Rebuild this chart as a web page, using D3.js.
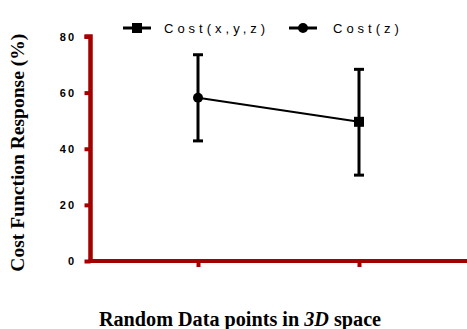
<!DOCTYPE html>
<html>
<head>
<meta charset="utf-8">
<script src="https://cdn.jsdelivr.net/npm/d3@7"></script>
<style>
  html, body { margin: 0; padding: 0; background: #fff; }
  svg { display: block; }
</style>
</head>
<body>
<svg id="chart" width="467" height="329"></svg>
<script>
// Mean cost response at two sampling locations, with error-bar extents
const categories = ["A", "B"];
const means = [58.2, 49.6];
const upper = [73.5, 68.3];
const lower = [42.8, 30.6];
const markers = ["circle", "square"];
const yTicks = [0, 20, 40, 60, 80];
const legendLabels = ["Cost(x,y,z)", "Cost(z)"];
const legendMarkers = ["square", "circle"];

const axisColor = "#a30000";
const svg = d3.select("#chart");

const axisX = 90.5;
const x = d3.scalePoint().domain(categories).range([198, 359]);
const y = d3.scaleLinear().domain([0, 80]).range([261, 36.5]);

// Y axis
const yAxis = svg.append("g").attr("transform", `translate(${axisX},0)`)
  .call(d3.axisLeft(y).tickValues(yTicks).tickSize(6).tickPadding(0).tickFormat(""));
yAxis.select(".domain").attr("stroke", axisColor).attr("stroke-width", 4.5)
  .attr("d", `M-6,${y(80)}H0V${y(0) + 2}`);
yAxis.selectAll(".tick line").attr("stroke", axisColor).attr("stroke-width", 4);
// tick labels, letter-spaced and right-aligned
svg.append("g").selectAll("text").data(yTicks).join("text")
  .attr("x", 74).attr("y", d => y(d) + 4)
  .attr("text-anchor", "end")
  .attr("font-family", "Arial, 'Liberation Sans', sans-serif")
  .attr("font-weight", "bold").attr("font-size", 11).attr("fill", "#000")
  .each(function (d) {
    const s = String(d);
    const t = d3.select(this);
    s.split("").forEach((ch, k) => {
      t.append("tspan").attr("dx", k === 0 ? 0 : 2).text(ch);
    });
  });

// X axis
const xAxis = svg.append("g").attr("transform", `translate(0,${y(0)})`)
  .call(d3.axisBottom(x).tickSize(6).tickFormat(""));
xAxis.select(".domain").attr("stroke", axisColor).attr("stroke-width", 4)
  .attr("d", `M${axisX - 2},0H467`);
xAxis.selectAll(".tick line").attr("stroke", axisColor).attr("stroke-width", 4);

// Connecting line
const pts = categories.map((c, i) => [x(c), y(means[i])]);
svg.append("path").attr("d", d3.line()(pts))
  .attr("fill", "none").attr("stroke", "#000").attr("stroke-width", 2);

// Error bars
const capW = 10;
categories.forEach((c, i) => {
  const cx = x(c);
  const g = svg.append("g").attr("stroke", "#000").attr("stroke-width", 3);
  g.append("line").attr("x1", cx).attr("x2", cx).attr("y1", y(upper[i])).attr("y2", y(lower[i]));
  g.append("line").attr("x1", cx - capW / 2).attr("x2", cx + capW / 2).attr("y1", y(upper[i])).attr("y2", y(upper[i]));
  g.append("line").attr("x1", cx - capW / 2).attr("x2", cx + capW / 2).attr("y1", y(lower[i])).attr("y2", y(lower[i]));
});

function drawMarker(sel, type, cx, cy) {
  if (type === "circle") {
    sel.append("circle").attr("cx", cx).attr("cy", cy).attr("r", 5).attr("fill", "#000");
  } else {
    sel.append("rect").attr("x", cx - 5).attr("y", cy - 5).attr("width", 10).attr("height", 10).attr("fill", "#000");
  }
}
categories.forEach((c, i) => drawMarker(svg, markers[i], x(c), y(means[i])));

// Legend
const legendX = [123, 289];
const legendTextX = [164, 333];
legendLabels.forEach((lab, i) => {
  const g = svg.append("g").attr("transform", `translate(${legendX[i]},28)`);
  g.append("line").attr("x1", 0).attr("x2", 28).attr("y1", 0).attr("y2", 0)
    .attr("stroke", "#000").attr("stroke-width", 3);
  drawMarker(g, legendMarkers[i], 14, 0);
  svg.append("text").attr("x", legendTextX[i]).attr("y", 33)
    .attr("font-family", "Arial, 'Liberation Sans', sans-serif")
    .attr("font-size", 13).attr("letter-spacing", 4).attr("fill", "#000")
    .text(lab);
});

// Axis titles
svg.append("text")
  .attr("transform", `translate(24,${(y(0) + y(80)) / 2 + 4}) rotate(-90)`)
  .attr("text-anchor", "middle")
  .attr("font-family", "'Times New Roman', 'Liberation Serif', serif")
  .attr("font-weight", "bold").attr("font-size", 19.5).attr("fill", "#000")
  .text("Cost Function Response (%)");

const xt = svg.append("text")
  .attr("x", 240).attr("y", 326)
  .attr("text-anchor", "middle")
  .attr("font-family", "'Times New Roman', 'Liberation Serif', serif")
  .attr("font-weight", "bold").attr("font-size", 20.2).attr("fill", "#000");
xt.append("tspan").text("Random Data points in ");
xt.append("tspan").attr("font-style", "italic").text("3D");
xt.append("tspan").text(" space");
</script>
</body>
</html>
